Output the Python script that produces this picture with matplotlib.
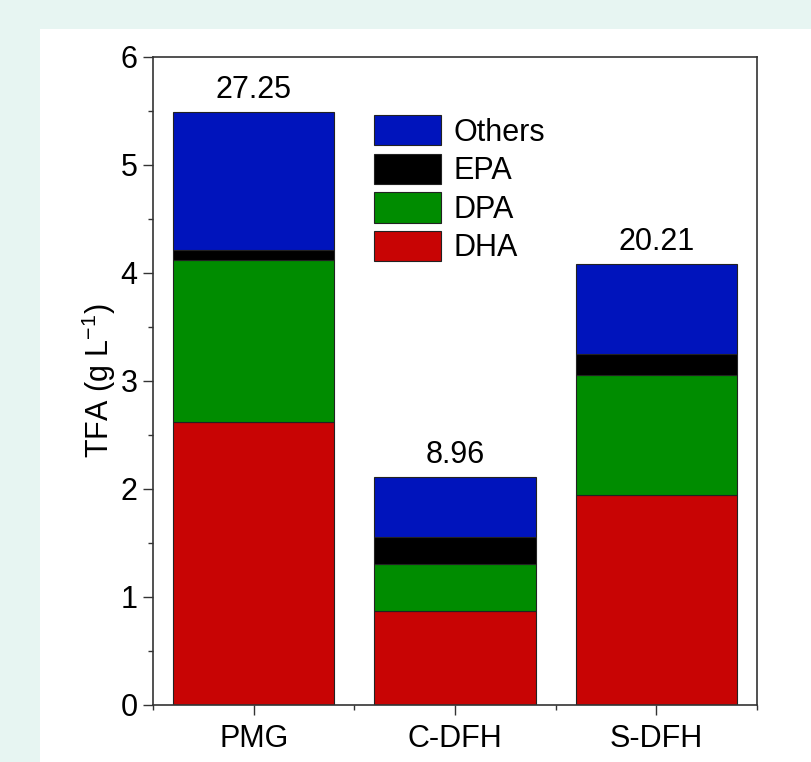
import matplotlib
matplotlib.use("Agg")
import matplotlib.pyplot as plt
from matplotlib.patches import Rectangle
from matplotlib.ticker import MultipleLocator
import numpy as np

plt.rcParams['font.family'] = ['Liberation Sans', 'DejaVu Sans']

categories = ['PMG', 'C-DFH', 'S-DFH']
dha = [2.62, 0.87, 1.94]
dpa = [1.50, 0.44, 1.12]
epa = [0.09, 0.25, 0.19]
others = [1.28, 0.55, 0.83]
totals_label = ['27.25', '8.96', '20.21']

series_names = ['DHA', 'DPA', 'EPA', 'Others']
series_vals = [dha, dpa, epa, others]
colors = ['#c80404', '#008c00', '#000000', '#0014bc']

W, H = 812, 762
FS = 22
fig = plt.figure(figsize=(W / 100, H / 100), dpi=100)
fig.patch.set_facecolor('#e7f5f2')
fig.patches.append(Rectangle((40 / W, 0), 1 - 40 / W, 1 - 29 / H,
                             transform=fig.transFigure, facecolor='white',
                             edgecolor='none', zorder=-10))

ax = fig.add_axes([153 / W, 1 - 705 / H, (757 - 153) / W, (705 - 57) / H])
ax.set_zorder(5)
x = np.arange(len(categories))
bottom = np.zeros(len(categories))
handles = {}
for name, vals, c in zip(series_names, series_vals, colors):
    b = ax.bar(x, vals, 0.8, bottom=bottom, color=c, edgecolor='#222222',
               linewidth=0.8, label=name)
    handles[name] = b
    bottom = bottom + np.array(vals)

for xi, top, lab in zip(x, bottom, totals_label):
    ax.text(xi, top + 0.07, lab, ha='center', va='bottom', fontsize=FS)

ax.set_xlim(-0.5, 2.5)
ax.set_ylim(0, 6)
ax.set_xticks(x)
ax.set_xticklabels(categories, fontsize=FS)
ax.set_xticks([-0.5, 0.5, 1.5, 2.5], minor=True)
ax.yaxis.set_major_locator(MultipleLocator(1))
ax.yaxis.set_minor_locator(MultipleLocator(0.5))
ax.tick_params(axis='both', which='major', direction='out', length=7,
               width=1.0, labelsize=FS, colors='#333333', labelcolor='black',
               pad=4)
ax.tick_params(axis='both', which='minor', direction='out', length=3.5,
               width=1.0, colors='#333333')
ax.tick_params(axis='x', which='major', pad=7)
for s in ax.spines.values():
    s.set_linewidth(1.2)
    s.set_color('#333333')
ax.set_ylabel('TFA (g L$^{\\mathregular{-1}}$)', fontsize=FS, labelpad=2)

order = ['Others', 'EPA', 'DPA', 'DHA']
ax.legend([handles[n] for n in order], order, loc='upper left',
          bbox_to_anchor=((374 - 153) / (757 - 153), 1 - (115 - 57) / (705 - 57)),
          frameon=False, fontsize=FS, handlelength=2.2, handleheight=1.15,
          labelspacing=0.2, handletextpad=0.4, borderpad=0, borderaxespad=0)

fig.savefig('out.png', dpi=100, facecolor=fig.get_facecolor())
